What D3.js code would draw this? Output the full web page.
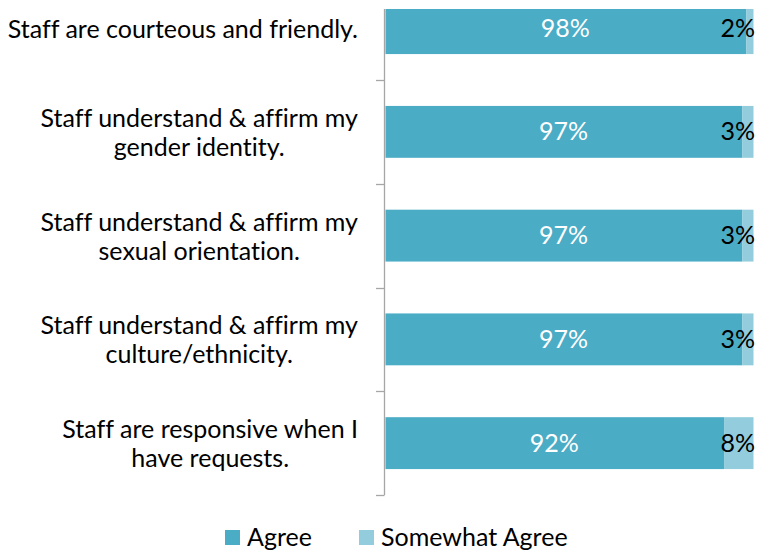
<!DOCTYPE html>
<html>
<head>
<meta charset="utf-8">
<script src="https://cdn.jsdelivr.net/npm/d3@7"></script>
<style>
  html, body { margin: 0; padding: 0; background: #fff; }
  svg { display: block; }
  text { font-family: Lato, "Open Sans", sans-serif; font-variant-ligatures: none; }
</style>
</head>
<body>
<svg id="chart" width="762" height="550"></svg>
<script>
const categories = [
  ["Staff are courteous and friendly."],
  ["Staff understand & affirm my", "gender identity."],
  ["Staff understand & affirm my", "sexual orientation."],
  ["Staff understand & affirm my", "culture/ethnicity."],
  ["Staff are responsive when I", "have requests."]
];
const agree = [98, 97, 97, 97, 92];
const somewhatAgree = [2, 3, 3, 3, 8];
const seriesNames = ["Agree", "Somewhat Agree"];
const colors = ["#4BACC6", "#93CDDD"];

const svg = d3.select("#chart");
const W = 762, H = 550;
const FS = 25;

const x = d3.scaleLinear().domain([0, 100]).range([385, 753]);
const y = d3.scaleBand().domain(d3.range(categories.length))
  .range([-23.75, 495]).paddingInner(0.5).paddingOuter(0.25);

const stackData = agree.map((a, i) => ({ i, Agree: a, "Somewhat Agree": somewhatAgree[i] }));
const stack = d3.stack().keys(seriesNames)(stackData);

svg.append("defs").append("clipPath").attr("id", "plotclip")
  .append("rect").attr("x", 0).attr("y", 9).attr("width", W).attr("height", H - 9);

const plot = svg.append("g").attr("clip-path", "url(#plotclip)");

// axis line and ticks
const axisColor = "#A6A6A6";
plot.append("line").attr("x1", 384.5).attr("x2", 384.5).attr("y1", 0).attr("y2", 495)
  .attr("stroke", axisColor).attr("stroke-width", 1.3);
const bounds = d3.range(1, categories.length + 1).map(i => y(0) - y.step() * y.paddingOuter() + y.step() * i);
plot.selectAll("line.tick").data(bounds).join("line").attr("class", "tick")
  .attr("x1", 376).attr("x2", 384.5)
  .attr("y1", d => Math.round(d) + 0.5).attr("y2", d => Math.round(d) + 0.5)
  .attr("stroke", axisColor).attr("stroke-width", 1.3);

// bars
stack.forEach((s, k) => {
  plot.selectAll("rect.s" + k).data(s).join("rect").attr("class", "s" + k)
    .attr("x", d => x(d[0]) + 0.5)
    .attr("width", d => x(d[1]) - x(d[0]))
    .attr("y", (d, i) => y(i))
    .attr("height", y.bandwidth())
    .attr("fill", colors[k]);
});

// value labels
stack[0].forEach((d, i) => {
  svg.append("text")
    .attr("x", (x(d[0]) + x(d[1])) / 2)
    .attr("y", y(i) + y.bandwidth() / 2 + FS * 0.34)
    .attr("text-anchor", "middle").attr("fill", "#fff").attr("font-size", FS)
    .text(agree[i] + "%");
});
stack[1].forEach((d, i) => {
  const t = svg.append("text")
    .attr("y", y(i) + y.bandwidth() / 2 + FS * 0.34)
    .attr("text-anchor", "end").attr("fill", "#000").attr("font-size", FS)
    .text(somewhatAgree[i] + "%");
  const w = t.node().getComputedTextLength();
  t.attr("x", Math.min((x(d[0]) + x(d[1])) / 2 + w / 2, 755));
});

// category labels
categories.forEach((lines, i) => {
  const g = svg.append("g");
  const ts = lines.map(l => g.append("text").attr("font-size", FS).attr("fill", "#000").text(l));
  const maxW = d3.max(ts, t => t.node().getComputedTextLength());
  const cx = 358 - maxW / 2;
  const lh = 29;
  const cy = y(i) + y.bandwidth() / 2 + 1;
  ts.forEach((t, j) => {
    t.attr("text-anchor", "middle").attr("x", cx)
      .attr("y", cy - (lines.length - 1) * lh / 2 + j * lh + FS * 0.34);
  });
});

// legend
const legendItems = [{ name: "Agree", x: 225 }, { name: "Somewhat Agree", x: 359 }];
legendItems.forEach((d, k) => {
  svg.append("rect").attr("x", d.x).attr("y", 530).attr("width", 15).attr("height", 15).attr("fill", colors[k]);
  svg.append("text").attr("x", d.x + 22).attr("y", 546).attr("font-size", FS).attr("fill", "#000").text(d.name);
});
</script>
</body>
</html>
